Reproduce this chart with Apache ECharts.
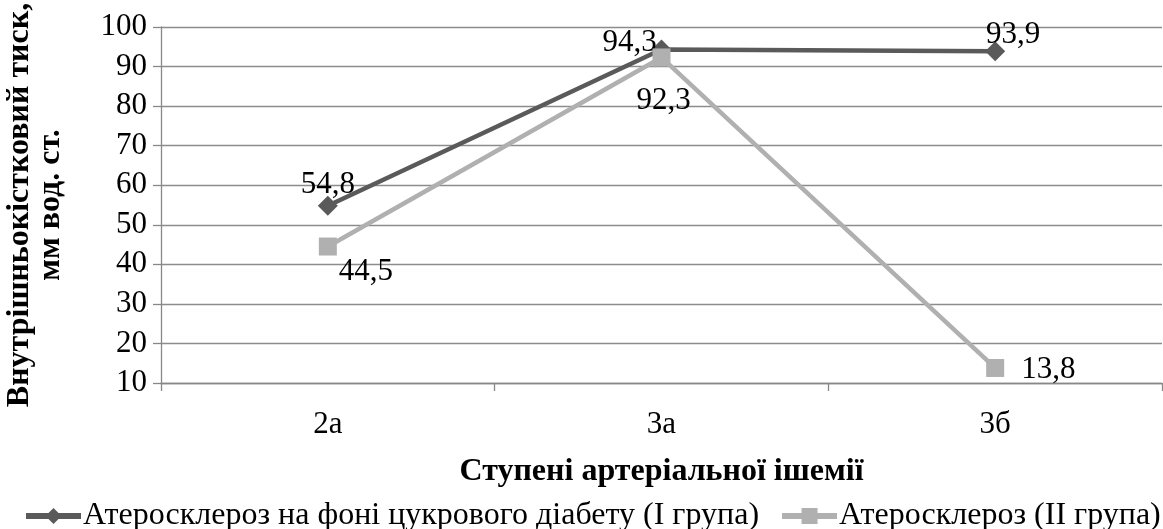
<!DOCTYPE html>
<html><head><meta charset="utf-8">
<script src="https://cdn.jsdelivr.net/npm/echarts@6/dist/echarts.min.js"></script>
<style>html,body{margin:0;padding:0;background:#fff}#c{width:1163px;height:529px}</style>
</head><body><div id="c"></div>
<script>
var categories = ['2а', '3а', '3б'];
var series1Name = 'Атеросклероз на фоні цукрового діабету (І група)';
var series2Name = 'Атеросклероз (ІІ група)';
var series1 = [54.8, 94.3, 93.9];
var series2 = [44.5, 92.3, 13.8];
var yTicks = {min: 10, max: 100, interval: 10};
var xTitle = 'Ступені артеріальної ішемії';
var yTitle = 'Внутрішньокістковий тиск,\nмм вод. ст.';

var FONT = '"Liberation Serif", "Times New Roman", serif';
var FS = 31;
var C1 = '#5a5a5a', C2 = '#b0b0b0';
var fmt = function (p) { return String(p.value).replace('.', ','); };
var lbl1 = [
  {position: 'top', offset: [0, 10]},
  {position: 'top', offset: [-32, 24]},
  {position: 'top', offset: [18, 14]}
];
var lbl2 = [
  {position: 'bottom', offset: [38, -4]},
  {position: 'bottom', offset: [2, 14]},
  {position: 'right', offset: [12, 2]}
];
var chart = echarts.init(document.getElementById('c'));
chart.setOption({
  animation: false,
  textStyle: {fontFamily: FONT},
  grid: {left: 161, right: 1, top: 27, bottom: 146, outerBoundsMode: 'none'},
  legend: {
    top: 495, left: 18, width: 1300, itemWidth: 55, itemHeight: 20, itemGap: 20,
    textStyle: {fontFamily: FONT, fontSize: 32, color: '#000', padding: [0, 0, 0, -3]},
    data: [
      {name: series1Name, lineStyle: {width: 6, color: C1}, itemStyle: {color: C1}},
      {name: series2Name, lineStyle: {width: 6, color: C2}, itemStyle: {color: C2}}
    ]
  },
  xAxis: {
    type: 'category', data: categories, boundaryGap: true,
    name: xTitle, nameLocation: 'middle', nameGap: 73,
    nameTextStyle: {fontFamily: FONT, fontSize: 32, fontWeight: 'bold', color: '#000'},
    axisLine: {lineStyle: {color: '#888', width: 1.3}},
    axisTick: {show: true, length: 8, lineStyle: {color: '#888', width: 1.3}},
    axisLabel: {fontFamily: FONT, fontSize: FS, color: '#000', margin: 26}
  },
  yAxis: {
    type: 'value', min: yTicks.min, max: yTicks.max, interval: yTicks.interval,
    name: yTitle, nameLocation: 'middle', nameGap: 95, nameRotate: 90,
    nameTextStyle: {fontFamily: FONT, fontSize: 32, fontWeight: 'bold', color: '#000', lineHeight: 31},
    axisLine: {show: true, lineStyle: {color: '#888', width: 1.3}},
    axisTick: {show: true, length: 8, lineStyle: {color: '#888', width: 1.3}},
    axisLabel: {fontFamily: FONT, fontSize: FS, color: '#000', margin: 14},
    splitLine: {show: true, lineStyle: {color: '#8c8c8c', width: 1.3}}
  },
  series: [
    {
      name: series1Name, type: 'line', data: series1.map(function (v, i) {
        return {value: v, label: lbl1[i]};
      }),
      symbol: 'diamond', symbolSize: 20,
      lineStyle: {color: C1, width: 4.5},
      itemStyle: {color: C1},
      label: {show: true, formatter: fmt, fontFamily: FONT, fontSize: FS, color: '#000'},
      z: 3
    },
    {
      name: series2Name, type: 'line', data: series2.map(function (v, i) {
        return {value: v, label: lbl2[i]};
      }),
      symbol: 'rect', symbolSize: 18,
      lineStyle: {color: C2, width: 4.5},
      itemStyle: {color: C2},
      label: {show: true, formatter: fmt, fontFamily: FONT, fontSize: FS, color: '#000'},
      z: 4
    }
  ]
});
</script></body></html>
